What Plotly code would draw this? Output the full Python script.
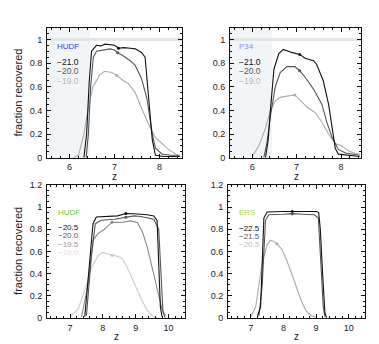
import plotly.graph_objects as go

W, H = 379, 344

# ---- top-left: HUDF z~7
tl_z = [6.07, 6.2, 6.32, 6.41, 6.52, 6.67, 6.78, 6.94, 7.05, 7.2, 7.3, 7.46, 7.6, 7.76, 7.91, 8.06, 8.2, 8.36, 8.47]
tl_m19 = [0.0, 0.02, 0.2, 0.4, 0.6, 0.7, 0.73, 0.72, 0.694, 0.65, 0.63, 0.55, 0.42, 0.28, 0.17, 0.12, 0.07, 0.03, 0.01]
tl_z20 = [6.37, 6.42, 6.47, 6.53, 6.6, 6.75, 6.9, 7.0, 7.07, 7.2, 7.35, 7.46, 7.6, 7.72, 7.84, 7.91, 8.06, 8.25, 8.45]
tl_m20 = [0.0, 0.2, 0.6, 0.85, 0.9, 0.91, 0.92, 0.91, 0.887, 0.86, 0.82, 0.78, 0.67, 0.5, 0.2, 0.08, 0.03, 0.02, 0.02]
tl_z21 = [6.32, 6.38, 6.44, 6.49, 6.6, 6.7, 6.79, 6.9, 7.0, 7.09, 7.2, 7.35, 7.46, 7.6, 7.68, 7.76, 7.84, 7.91, 8.1, 8.45]
tl_m21 = [0.0, 0.2, 0.65, 0.9, 0.95, 0.945, 0.96, 0.955, 0.95, 0.925, 0.93, 0.925, 0.92, 0.89, 0.85, 0.5, 0.15, 0.02, 0.01, 0.01]

# ---- top-right: P34 z~7
tr_z19 = [6.0, 6.15, 6.3, 6.41, 6.52, 6.63, 6.78, 6.96, 7.12, 7.26, 7.42, 7.57, 7.72, 7.87, 8.01, 8.16, 8.31, 8.42]
tr_m19 = [0.01, 0.1, 0.25, 0.4, 0.48, 0.51, 0.52, 0.53, 0.47, 0.42, 0.38, 0.3, 0.2, 0.12, 0.1, 0.06, 0.035, 0.03]
tr_z20 = [6.26, 6.33, 6.41, 6.52, 6.63, 6.78, 6.96, 7.07, 7.19, 7.38, 7.57, 7.68, 7.8, 7.94, 8.1, 8.31, 8.42]
tr_m20 = [0.0, 0.12, 0.35, 0.6, 0.72, 0.77, 0.77, 0.735, 0.68, 0.58, 0.45, 0.3, 0.17, 0.07, 0.04, 0.025, 0.02]
tr_z21 = [6.3, 6.36, 6.41, 6.49, 6.6, 6.7, 6.89, 7.07, 7.19, 7.38, 7.45, 7.6, 7.72, 7.8, 7.87, 7.94, 8.2, 8.42]
tr_m21 = [0.0, 0.15, 0.4, 0.75, 0.88, 0.915, 0.89, 0.873, 0.84, 0.82, 0.79, 0.65, 0.45, 0.25, 0.08, 0.03, 0.02, 0.01]

# ---- bottom-left: HUDF z~8
bl_z19 = [7.0, 7.25, 7.45, 7.65, 7.85, 8.0, 8.1, 8.28, 8.45, 8.6, 8.75, 8.9, 9.05, 9.2, 9.35, 9.5, 9.65]
bl_m19 = [0.01, 0.08, 0.25, 0.45, 0.56, 0.59, 0.58, 0.565, 0.555, 0.53, 0.45, 0.35, 0.25, 0.15, 0.07, 0.02, 0.0]
bl_z195 = [7.35, 7.55, 7.7, 7.85, 8.05, 8.28, 8.55, 8.85, 9.05, 9.2, 9.35, 9.55, 9.7, 9.8, 9.9]
bl_m195 = [0.01, 0.3, 0.7, 0.76, 0.8, 0.863, 0.86, 0.875, 0.86, 0.78, 0.64, 0.4, 0.2, 0.08, 0.02]
bl_z20 = [7.5, 7.65, 7.77, 7.95, 8.35, 8.7, 8.95, 9.15, 9.35, 9.55, 9.7, 9.77, 9.83, 9.9]
bl_m20 = [0.02, 0.55, 0.85, 0.88, 0.89, 0.907, 0.92, 0.915, 0.9, 0.89, 0.8, 0.4, 0.05, 0.0]
bl_z205 = [7.45, 7.6, 7.7, 7.8, 8.1, 8.45, 8.7, 8.95, 9.35, 9.55, 9.65, 9.7, 9.75, 9.8]
bl_m205 = [0.01, 0.5, 0.85, 0.91, 0.915, 0.92, 0.942, 0.94, 0.93, 0.92, 0.88, 0.5, 0.1, 0.01]

# ---- bottom-right: ERS z~8
br_z205 = [7.0, 7.15, 7.25, 7.35, 7.5, 7.6, 7.7, 7.8, 7.95, 8.1, 8.25, 8.4, 8.55, 8.7, 8.85, 9.0]
br_m205 = [0.01, 0.1, 0.3, 0.5, 0.66, 0.7, 0.69, 0.668, 0.62, 0.52, 0.4, 0.27, 0.15, 0.06, 0.02, 0.005]
br_z215 = [7.25, 7.35, 7.45, 7.55, 8.0, 8.27, 8.6, 8.95, 9.07, 9.15, 9.22, 9.27]
br_m215 = [0.02, 0.3, 0.88, 0.93, 0.935, 0.94, 0.935, 0.93, 0.9, 0.5, 0.1, 0.01]
br_z225 = [7.2, 7.3, 7.4, 7.5, 8.0, 8.27, 8.6, 9.02, 9.08, 9.13, 9.2, 9.27, 9.32]
br_m225 = [0.01, 0.1, 0.9, 0.955, 0.96, 0.96, 0.96, 0.96, 0.95, 0.8, 0.4, 0.05, 0.0]

# highlighted points on each curve
dots = {
    1: [(7.09, 0.925, "#111111"), (7.07, 0.887, "#555555"), (7.05, 0.694, "#aaaaaa")],
    2: [(7.07, 0.873, "#111111"), (7.07, 0.735, "#555555"), (6.96, 0.53, "#aaaaaa")],
    3: [(8.7, 0.942, "#111111"), (8.7, 0.907, "#555555"), (8.28, 0.863, "#888888"), (8.28, 0.565, "#cccccc")],
    4: [(8.27, 0.96, "#111111"), (8.27, 0.94, "#555555"), (7.8, 0.668, "#aaaaaa")],
}

fig = go.Figure()


def px2paper(x, y):
    return x / W, 1 - y / H


def add_line(k, z, f, color):
    xa = "x" if k == 1 else "x%d" % k
    ya = "y" if k == 1 else "y%d" % k
    fig.add_trace(go.Scatter(x=z, y=f, mode="lines", xaxis=xa, yaxis=ya,
                             line=dict(color=color, width=1.1), showlegend=False,
                             hoverinfo="skip"))


# shaded low-z region and f=1 line in top panels (drawn first)
for k in (1, 2):
    xr = "x" if k == 1 else "x2"
    yr = "y" if k == 1 else "y2"
    fig.add_shape(type="rect", xref=xr, yref=yr, x0=5.5, x1=6.45, y0=0, y1=1.1,
                  fillcolor="#f1f5f7", line_width=0, layer="below")
    fig.add_shape(type="line", xref=xr, yref=yr, x0=5.5, x1=8.5, y0=1, y1=1,
                  line=dict(color="#e2e6e6", width=3), layer="below")

add_line(1, tl_z, tl_m19, "#aaaaaa")
add_line(1, tl_z20, tl_m20, "#555555")
add_line(1, tl_z21, tl_m21, "#111111")
add_line(2, tr_z19, tr_m19, "#aaaaaa")
add_line(2, tr_z20, tr_m20, "#555555")
add_line(2, tr_z21, tr_m21, "#111111")
add_line(3, bl_z19, bl_m19, "#cccccc")
add_line(3, bl_z195, bl_m195, "#888888")
add_line(3, bl_z20, bl_m20, "#555555")
add_line(3, bl_z205, bl_m205, "#111111")
add_line(4, br_z205, br_m205, "#aaaaaa")
add_line(4, br_z215, br_m215, "#555555")
add_line(4, br_z225, br_m225, "#111111")

for k, pts in dots.items():
    xa = "x" if k == 1 else "x%d" % k
    ya = "y" if k == 1 else "y%d" % k
    fig.add_trace(go.Scatter(x=[p[0] for p in pts], y=[p[1] for p in pts], mode="markers",
                             xaxis=xa, yaxis=ya, showlegend=False, hoverinfo="skip",
                             marker=dict(size=3, color=[p[2] for p in pts])))

# panel boxes in pixels: (left, right, top, bottom)
boxes = {1: (39, 174, 15, 149), 2: (222, 353, 15, 149),
         3: (39, 177, 177, 314), 4: (220, 357, 177, 314)}
xranges = {1: [5.5, 8.5], 2: [5.5, 8.45], 3: [6.3, 10.5], 4: [6.3, 10.5]}
yranges = {1: [0, 1.1], 2: [0, 1.1], 3: [0, 1.2], 4: [0, 1.2]}

tickfont = dict(family="Liberation Sans, Arial", size=9, color="#222")
common = dict(showline=True, linecolor="#111", linewidth=1, mirror="allticks",
              ticks="inside", ticklen=4, tickcolor="#111", showgrid=False,
              zeroline=False, tickfont=tickfont)

lay = {}
for k, (l, r, t, b) in boxes.items():
    sx = "" if k == 1 else str(k)
    lay["xaxis" + sx] = dict(domain=[l / W, r / W], range=xranges[k], dtick=1,
                             anchor="y" + sx, ticklabelstandoff=1,
                             minor=dict(dtick=0.2, ticks="inside", ticklen=2, tickcolor="#111"),
                             **common)
    lay["yaxis" + sx] = dict(domain=[1 - b / H, 1 - t / H], range=yranges[k], dtick=0.2,
                             anchor="x" + sx, ticklabelstandoff=2,
                             minor=dict(dtick=0.05, ticks="inside", ticklen=2, tickcolor="#111"),
                             **common)
fig.update_layout(**lay)

ann = []
lab_font = "Liberation Sans, Arial"


def text(x, y, s, color, size=9, angle=0, xanchor="left", height=None):
    px_, py_ = px2paper(x, y)
    a = dict(x=px_, y=py_, xref="paper", yref="paper", text=s, showarrow=False,
             xanchor=xanchor, yanchor="middle", textangle=angle, borderpad=0,
             font=dict(family=lab_font, size=size, color=color))
    if height:
        a["height"] = height
    ann.append(a)


# axis titles
for cx, cy in [(106, 168), (288, 168), (108, 333), (288, 333)]:
    text(cx, cy, "z", "#222", size=10, xanchor="center", height=8)
text(10, 82, "fraction recovered", "#222", size=11, angle=-90, xanchor="center")
text(10, 245, "fraction recovered", "#222", size=11, angle=-90, xanchor="center")

# in-panel labels
text(48, 34, "HUDF", "#4433dd", size=8)
text(48, 50, "−21.0", "#111111", size=8.5)
text(48, 60, "−20.0", "#555555", size=8.5)
text(48, 70, "−19.0", "#bbbbbb", size=8.5)
text(230, 34, "P34", "#8888ee", size=8)
text(230, 50, "−21.0", "#111111", size=8.5)
text(230, 60, "−20.0", "#555555", size=8.5)
text(230, 70, "−19.0", "#bbbbbb", size=8.5)
text(49, 205, "HUDF", "#66cc44", size=8)
text(49, 221, "−20.5", "#111111", size=8)
text(49, 229.5, "−20.0", "#555555", size=8)
text(49, 238, "−19.5", "#999999", size=8)
text(49, 246.5, "−19.0", "#dddddd", size=8)
text(230, 205, "ERS", "#aadd44", size=8)
text(230, 222, "−22.5", "#111111", size=8)
text(230, 230, "−21.5", "#555555", size=8)
text(230, 238, "−20.5", "#bbbbbb", size=8)

fig.update_layout(annotations=ann, width=W, height=H, margin=dict(l=0, r=0, t=0, b=0),
                  paper_bgcolor="white", plot_bgcolor="white", showlegend=False)

fig.write_html("out.html")
